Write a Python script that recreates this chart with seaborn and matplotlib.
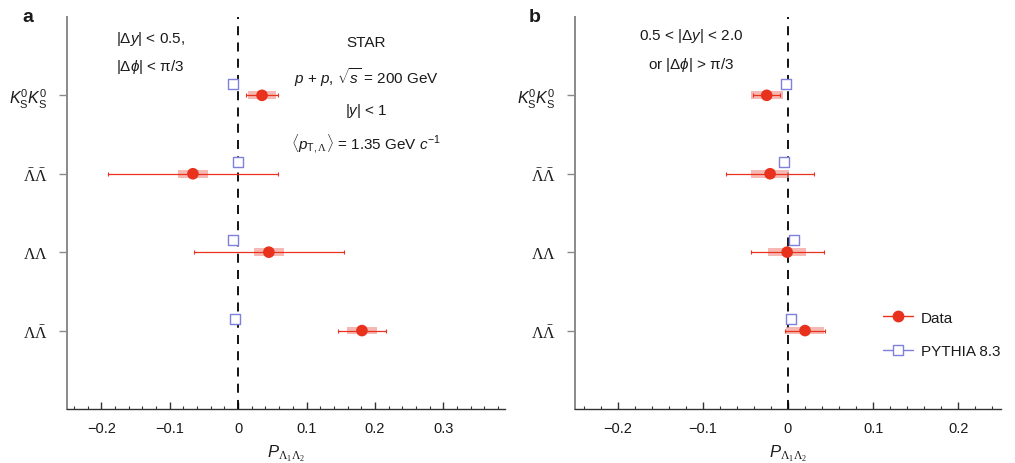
import numpy as np
import pandas as pd
import matplotlib
matplotlib.use("Agg")
import matplotlib.pyplot as plt
from matplotlib.lines import Line2D
import seaborn as sns

# ---------------- data ----------------
categories = [r"$K^{\mathsf{0}}_{\mathsf{S}}K^{\mathsf{0}}_{\mathsf{S}}$",
              r"$\bar{\Lambda}\bar{\Lambda}$",
              r"$\Lambda\Lambda$",
              r"$\Lambda\bar{\Lambda}$"]
cat_pos = [4, 3, 2, 1]

# panel a: |dy|<0.5, |dphi|<pi/3
a_data = [0.035, -0.066, 0.045, 0.181]
a_stat = [0.023, 0.124, 0.110, 0.035]
a_syst = [0.020, 0.022, 0.022, 0.022]
a_pythia = [-0.008, 0.000, -0.008, -0.004]
a_pythia_err = [0.002, 0.004, 0.006, 0.002]

# panel b: 0.5<|dy|<2.0 or |dphi|>pi/3
b_data = [-0.025, -0.021, -0.001, 0.020]
b_stat = [0.016, 0.052, 0.043, 0.023]
b_syst = [0.019, 0.022, 0.022, 0.022]
b_pythia = [-0.002, -0.005, 0.007, 0.003]
b_pythia_err = [0.002, 0.002, 0.002, 0.002]

a_xticks = [-0.2, -0.1, 0, 0.1, 0.2, 0.3]
b_xticks = [-0.2, -0.1, 0, 0.1, 0.2]
a_xticklabels = ["\u22120.2", "\u22120.1", "0", "0.1", "0.2", "0.3"]
b_xticklabels = ["\u22120.2", "\u22120.1", "0", "0.1", "0.2"]

RED = "#e8321e"
BAND = "#f19a92"
BLUE = "#7f7fdc"
SPINE = "#8a8a8a"
TXT = "#1a1a1a"

sns.set_theme(style="ticks")
plt.rcParams["font.family"] = ["Liberation Sans", "DejaVu Sans"]
plt.rcParams["mathtext.fontset"] = "custom"
plt.rcParams["mathtext.rm"] = "Liberation Serif"
plt.rcParams["mathtext.it"] = "Liberation Sans:italic"
plt.rcParams["mathtext.sf"] = "Liberation Sans"
plt.rcParams["mathtext.bf"] = "Liberation Sans:bold"
plt.rcParams["text.color"] = TXT
plt.rcParams["axes.labelcolor"] = TXT
plt.rcParams["xtick.labelcolor"] = TXT
plt.rcParams["ytick.labelcolor"] = TXT

fig = plt.figure(figsize=(10.15, 4.64), dpi=100)
ax_a = fig.add_axes([0.066, 0.1164, 0.4315, 0.845])
ax_b = fig.add_axes([0.5665, 0.1164, 0.4197, 0.845])

PY_OFF = 0.15


def draw(ax, data, stat, syst, pyth, pyth_err, xlim, xticks, xticklabels):
    df = pd.DataFrame({"x": data, "y": cat_pos, "stat": stat, "syst": syst})
    dp = pd.DataFrame({"x": pyth, "y": [p + PY_OFF for p in cat_pos], "err": pyth_err})
    ax.axvline(0, color="black", lw=1.3, ls=(0, (5, 4)), zorder=1)
    # systematic bands
    for _, r in df.iterrows():
        ax.fill_between([r.x - r.syst, r.x + r.syst], r.y - 0.05, r.y + 0.05,
                        color=BAND, alpha=0.7, lw=0, zorder=2)
    # statistical errors
    ax.errorbar(df.x, df.y, xerr=df.stat, fmt="none", ecolor=RED, elinewidth=0.9,
                capsize=1.5, capthick=0.8, zorder=3)
    sns.scatterplot(data=df, x="x", y="y", ax=ax, color=RED, s=70, marker="o",
                    edgecolor="none", zorder=4, legend=False)
    # pythia
    ax.errorbar(dp.x, dp.y, xerr=dp.err, fmt="none", ecolor=BLUE, elinewidth=0.8,
                capsize=1.5, capthick=0.8, zorder=3)
    sns.scatterplot(data=dp, x="x", y="y", ax=ax, marker="s", s=60,
                    facecolor="white", edgecolor=BLUE, linewidth=1.0, zorder=4,
                    legend=False)

    ax.set_xlim(*xlim)
    ax.set_ylim(0, 5)
    ax.set_yticks(cat_pos)
    ax.set_yticklabels(categories, fontsize=11.5)
    ax.set_xticks(xticks)
    ax.set_xticklabels(xticklabels, fontsize=10.5)
    ax.set_xticks(np.arange(-0.24, xlim[1] + 1e-9, 0.02), minor=True)
    ax.tick_params(axis="x", which="major", direction="in", length=5, width=1,
                   color="#333333", pad=9)
    ax.tick_params(axis="x", which="minor", direction="in", length=2.5, width=0.8,
                   color="#333333")
    ax.tick_params(axis="y", which="major", direction="out", length=6, width=1,
                   color=SPINE, pad=8)
    for s in ["top", "right"]:
        ax.spines[s].set_visible(False)
    ax.spines["left"].set_color(SPINE)
    ax.spines["left"].set_linewidth(1.4)
    ax.spines["bottom"].set_color("#333333")
    ax.spines["bottom"].set_linewidth(1.0)
    ax.set_xlabel(r"$P_{\Lambda_1\Lambda_2}$", fontsize=12, labelpad=5)
    ax.set_ylabel("")


draw(ax_a, a_data, a_stat, a_syst, a_pythia, a_pythia_err, (-0.25, 0.39),
     a_xticks, a_xticklabels)
draw(ax_b, b_data, b_stat, b_syst, b_pythia, b_pythia_err, (-0.25, 0.25),
     b_xticks, b_xticklabels)

fs = 11
# panel a annotations
ax_a.text(0.19, 0.945, r"|$\mathsf{\Delta}y$| < 0.5,", transform=ax_a.transAxes,
          ha="center", va="center", fontsize=fs)
ax_a.text(0.19, 0.875, r"|$\mathsf{\Delta}\phi$| < $\mathsf{\pi}$/3", transform=ax_a.transAxes,
          ha="center", va="center", fontsize=fs)
ax_a.text(0.683, 0.935, "STAR", transform=ax_a.transAxes, ha="center", va="center",
          fontsize=fs)
ax_a.text(0.683, 0.848, r"$p$ + $p$, $\sqrt{s}$ = 200 GeV", transform=ax_a.transAxes,
          ha="center", va="center", fontsize=fs)
ax_a.text(0.683, 0.762, r"|$y$| < 1", transform=ax_a.transAxes, ha="center",
          va="center", fontsize=fs)
ax_a.text(0.683, 0.676, r"$\langle p_{\mathsf{T,}\Lambda}\rangle$ = 1.35 GeV $c^{\mathsf{-1}}$",
          transform=ax_a.transAxes, ha="center", va="center", fontsize=fs)

# panel b annotations
ax_b.text(0.272, 0.953, r"0.5 < |$\mathsf{\Delta}y$| < 2.0", transform=ax_b.transAxes,
          ha="center", va="center", fontsize=fs)
ax_b.text(0.272, 0.88, r"or |$\mathsf{\Delta}\phi$| > $\mathsf{\pi}$/3", transform=ax_b.transAxes,
          ha="center", va="center", fontsize=fs)

# panel letters
fig.text(0.022, 0.963, "a", fontsize=14, fontweight="bold", ha="left", va="center")
fig.text(0.521, 0.963, "b", fontsize=14, fontweight="bold", ha="left", va="center")

handles = [Line2D([0], [0], color=RED, lw=1, marker="o", markersize=7.5,
                  markerfacecolor=RED, markeredgecolor=RED),
           Line2D([0], [0], color=BLUE, lw=1, marker="s", markersize=7.5,
                  markerfacecolor="white", markeredgecolor=BLUE)]
ax_b.legend(handles, ["Data", "PYTHIA 8.3"], loc="center left",
            bbox_to_anchor=(0.69, 0.19), frameon=False, fontsize=fs,
            handlelength=2.0, handletextpad=0.5, labelspacing=1.3)

fig.savefig("out.png", dpi=100)
